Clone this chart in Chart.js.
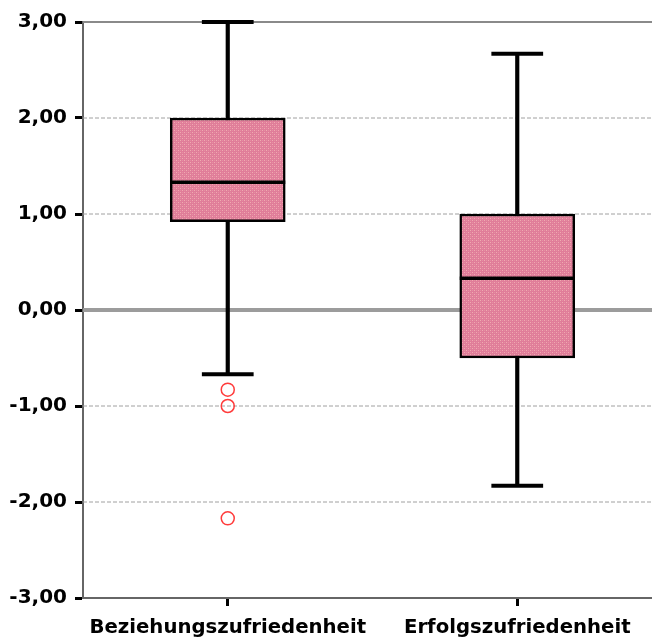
<!DOCTYPE html>
<html>
<head>
<meta charset="utf-8">
<script src="https://cdn.jsdelivr.net/npm/chart.js@4.4.0/dist/chart.umd.min.js"></script>
<style>
  html, body { margin: 0; padding: 0; background: #ffffff; overflow: hidden; width: 652px; height: 639px; }
  canvas { display: block; }
</style>
</head>
<body>
<canvas id="c" width="670" height="639"></canvas>
<script>
// ---- data ----
const categories = ['Beziehungszufriedenheit', 'Erfolgszufriedenheit'];
const whiskerMin = [-0.67, -1.83];
const quartile1 = [0.92, -0.5];
const medianVals = [1.33, 0.33];
const quartile3 = [2.0, 1.0];
const whiskerMax = [3.0, 2.67];
const outlierCategories = ['Beziehungszufriedenheit', 'Beziehungszufriedenheit', 'Beziehungszufriedenheit'];
const outlierValues = [-0.83, -1.0, -2.17];
const yTickValues = [3, 2, 1, 0, -1, -2, -3];

// ---- pattern fill for boxes ----
function makePattern() {
  const p = document.createElement('canvas');
  p.width = 4; p.height = 4;
  const g = p.getContext('2d');
  g.fillStyle = '#e07d99';
  g.fillRect(0, 0, 4, 4);
  g.fillStyle = '#f0aab0';
  g.fillRect(0, 0, 1, 1);
  g.fillRect(2, 2, 1, 1);
  g.fillStyle = '#e58ea4';
  g.fillRect(2, 0, 1, 1);
  g.fillRect(0, 2, 1, 1);
  return document.getElementById('c').getContext('2d').createPattern(p, 'repeat');
}

const ctx = document.getElementById('c').getContext('2d');
const boxPattern = makePattern();

// grid lines drawn through the y scale
const gridPlugin = {
  id: 'gridLines',
  beforeDatasetsDraw(chart) {
    const y = chart.scales.y;
    const area = chart.chartArea;
    const c = chart.ctx;
    c.save();
    yTickValues.forEach(v => {
      const py = y.getPixelForValue(v);
      if (v === -3) return;
      c.beginPath();
      if (v === 0) {
        c.setLineDash([]);
        c.lineWidth = 4;
        c.strokeStyle = '#9c9c9c';
      } else if (v === 3) {
        c.setLineDash([]);
        c.lineWidth = 2;
        c.strokeStyle = '#8a8a8a';
      } else {
        c.setLineDash([4, 2]);
        c.lineWidth = 1;
        c.strokeStyle = '#a0a0a0';
      }
      c.moveTo(area.left, py);
      c.lineTo(area.right + 10, py);
      c.stroke();
    });
    c.restore();
  }
};

// caps and medians drawn through the scales
const boxPlugin = {
  id: 'boxExtras',
  afterDatasetsDraw(chart) {
    const x = chart.scales.x;
    const y = chart.scales.y;
    const c = chart.ctx;
    const boxMeta = chart.getDatasetMeta(1);
    c.save();
    c.strokeStyle = '#000000';
    c.lineCap = 'butt';
    categories.forEach((cat, i) => {
      const cx = x.getPixelForValue(i);
      const bw = boxMeta.data[i].width;
      // median
      c.lineWidth = 3.5;
      c.beginPath();
      c.moveTo(cx - bw / 2, y.getPixelForValue(medianVals[i]));
      c.lineTo(cx + bw / 2, y.getPixelForValue(medianVals[i]));
      c.stroke();
      // caps
      const half = bw * 0.225;
      c.lineWidth = 4;
      [whiskerMin[i], whiskerMax[i]].forEach(v => {
        const py = y.getPixelForValue(v);
        c.beginPath();
        c.moveTo(cx - half, py);
        c.lineTo(cx + half, py);
        c.stroke();
      });
    });
    c.restore();
  }
};

Chart.defaults.font.family = "'DejaVu Sans', sans-serif";
Chart.defaults.font.weight = 'bold';
Chart.defaults.font.size = 20;
Chart.defaults.color = '#000000';

new Chart(ctx, {
  type: 'bar',
  data: {
    labels: categories,
    datasets: [
      {
        label: 'whisker',
        data: categories.map((c, i) => [whiskerMin[i], whiskerMax[i]]),
        backgroundColor: '#000000',
        borderWidth: 0,
        barThickness: 3.5,
        grouped: false,
        order: 3
      },
      {
        label: 'box',
        data: categories.map((c, i) => [quartile1[i], quartile3[i]]),
        backgroundColor: boxPattern,
        borderColor: '#000000',
        borderWidth: 2.5,
        borderSkipped: false,
        barThickness: 115,
        grouped: false,
        order: 2
      },
      {
        type: 'line',
        label: 'outliers',
        data: outlierCategories.map((c, i) => ({ x: c, y: outlierValues[i] })),
        showLine: false,
        pointStyle: 'circle',
        pointRadius: 6.5,
        pointBorderWidth: 1.5,
        pointBorderColor: '#ff3b3b',
        pointBackgroundColor: 'rgba(0,0,0,0)',
        order: 1
      }
    ]
  },
  options: {
    responsive: false,
    animation: false,
    layout: { padding: { top: 22, right: 1, bottom: 0, left: 0 } },
    plugins: { legend: { display: false }, tooltip: { enabled: false } },
    scales: {
      x: {
        type: 'category',
        offset: true,
        afterFit(scale) { scale.height = 41; },
        grid: {
          offset: false,
          drawOnChartArea: false,
          drawTicks: true,
          tickLength: 8,
          tickWidth: 3,
          tickColor: '#000000'
        },
        border: { display: true, color: '#666666', width: 2 },
        ticks: { padding: 10, maxRotation: 0, autoSkip: false, font: { size: 19.7, weight: 'bold' } }
      },
      y: {
        min: -3,
        max: 3,
        afterFit(scale) { scale.width = 83; },
        afterBuildTicks(scale) { scale.ticks = yTickValues.map(v => ({ value: v })); },
        grid: {
          drawOnChartArea: false,
          drawTicks: true,
          tickLength: 8,
          tickWidth: 3,
          tickColor: '#000000'
        },
        border: { display: true, color: '#666666', width: 2 },
        ticks: {
          padding: 8,
          font: { size: 20, weight: 'bold' },
          callback: (v) => Number(v).toFixed(2).replace('.', ',')
        }
      }
    }
  },
  plugins: [gridPlugin, boxPlugin]
});
</script>
</body>
</html>
